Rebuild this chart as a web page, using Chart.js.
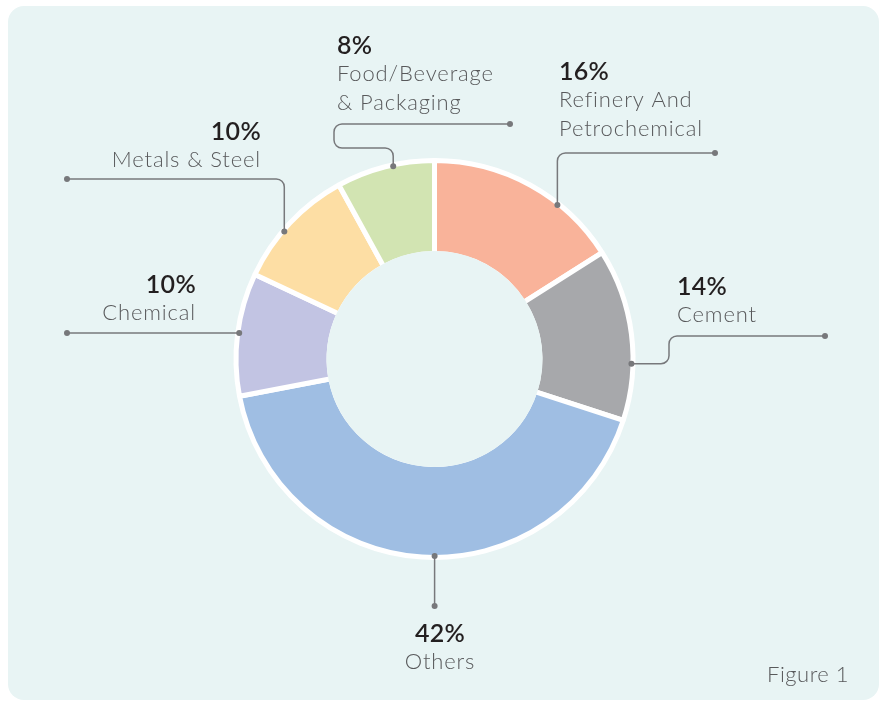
<!DOCTYPE html>
<html>
<head>
<meta charset="utf-8">
<script src="https://cdn.jsdelivr.net/npm/chart.js@4"></script>
<style>
  html, body { margin: 0; padding: 0; background: #ffffff; }
  #wrap { position: relative; width: 885px; height: 702px; }
  #panel {
    position: absolute; left: 8px; top: 6px; width: 871px; height: 694px;
    background: #e8f4f4; border-radius: 16px;
  }
  #cv { position: absolute; left: 0; top: 0; }
</style>
</head>
<body>
<div id="wrap">
  <div id="panel"></div>
  <canvas id="cv" width="885" height="702"></canvas>
</div>
<script>
// Dados do gráfico (sentido horário a partir do topo)
const categories = ['Refinery And Petrochemical', 'Cement', 'Others', 'Chemical', 'Metals & Steel', 'Food/Beverage & Packaging'];
const shares = [16, 14, 42, 10, 10, 8];
const labelLines = [
    ['Refinery And', 'Petrochemical'],
    ['Cement'],
    ['Others'],
    ['Chemical'],
    ['Metals & Steel'],
    ['Food/Beverage', '& Packaging']
];
const sliceColors = ['#f9b39a', '#a7a8ab', '#9fbee3', '#c2c4e3', '#fddea4', '#d2e4b2'];

// Posição dos rótulos e das linhas de chamada (apenas layout)
const labelLayout = [
    { frac: 0.67, route: [['v', 153], ['h', 715]], x: 559, y: 80, align: 'left' },
    { frac: 0.67, route: [['h', 669], ['v', 336], ['h', 825]], x: 677, y: 295, align: 'left' },
    { frac: 0.476, route: [['v', 606]], x: 440, y: 642, align: 'center' },
    { frac: 0.51, route: [['h', 67]], x: 196, y: 293, align: 'right' },
    { frac: 0.42, route: [['v', 179], ['h', 67]], x: 261, y: 140, align: 'right' },
    { frac: 0.58, route: [['v', 148], ['h', 334], ['v', 124], ['h', 510]], x: 337, y: 54, align: 'left' }
];

const BG = '#e8f4f4';
const LINE = '#77787b';

// Plugin: tapa a borda branca interna do furo
const holePlugin = {
    id: 'hole',
    afterDatasetsDraw(chart) {
        const arc = chart.getDatasetMeta(0).data[0];
        const ctx = chart.ctx;
        ctx.save();
        ctx.fillStyle = BG;
        ctx.beginPath();
        ctx.arc(arc.x, arc.y, arc.innerRadius + 2.5, 0, Math.PI * 2);
        ctx.fill();
        ctx.restore();
    }
};

// Plugin: linhas de chamada e textos
const calloutPlugin = {
    id: 'callouts',
    afterDraw(chart) {
        const ctx = chart.ctx;
        const arcs = chart.getDatasetMeta(0).data;
        ctx.save();
        arcs.forEach((arc, i) => {
            const lay = labelLayout[i];
            const a = arc.startAngle + lay.frac * (arc.endAngle - arc.startAngle);
            const r = arc.outerRadius - 1.5;
            const pts = [[arc.x + Math.cos(a) * r, arc.y + Math.sin(a) * r]];
            lay.route.forEach(([dir, v]) => {
                const last = pts[pts.length - 1];
                pts.push(dir === 'v' ? [last[0], v] : [v, last[1]]);
            });
            // linha com cantos arredondados
            ctx.strokeStyle = LINE;
            ctx.lineWidth = 1.5;
            ctx.beginPath();
            ctx.moveTo(pts[0][0], pts[0][1]);
            for (let k = 1; k < pts.length - 1; k++) {
                ctx.arcTo(pts[k][0], pts[k][1], pts[k + 1][0], pts[k + 1][1], 8);
            }
            const end = pts[pts.length - 1];
            ctx.lineTo(end[0], end[1]);
            ctx.stroke();
            ctx.fillStyle = LINE;
            [pts[0], end].forEach(p => {
                ctx.beginPath();
                ctx.arc(p[0], p[1], 3, 0, Math.PI * 2);
                ctx.fill();
            });
            // textos
            ctx.textAlign = lay.align;
            ctx.textBaseline = 'alphabetic';
            ctx.fillStyle = '#231f20';
            ctx.letterSpacing = '0.3px';
            ctx.font = '600 25px Lato';
            ctx.fillText(shares[i] + '%', lay.x, lay.y);
            ctx.fillStyle = '#58595b';
            ctx.letterSpacing = '0.85px';
            ctx.font = '300 22px Lato';
            labelLines[i].forEach((t, j) => {
                ctx.fillText(t, lay.x, lay.y + 27 + j * 29);
            });
        });
        ctx.textAlign = 'right';
        ctx.fillStyle = '#58595b';
        ctx.letterSpacing = '0.5px';
        ctx.font = '300 22px Lato';
        ctx.fillText('Figure 1', 849, 682);
        ctx.restore();
    }
};

const chart = new Chart(document.getElementById('cv').getContext('2d'), {
    type: 'doughnut',
    data: {
        labels: categories,
        datasets: [{
            data: shares,
            backgroundColor: sliceColors,
            borderColor: '#ffffff',
            borderWidth: 5,
            borderAlign: 'center',
            hoverOffset: 0
        }]
    },
    options: {
        responsive: false,
        animation: false,
        radius: 198.5,
        cutout: '53.15%',
        layout: { padding: { left: 0, right: 16, top: 16, bottom: 0 } },
        plugins: {
            legend: { display: false },
            tooltip: { enabled: false }
        }
    },
    plugins: [holePlugin, calloutPlugin]
});
</script>
</body>
</html>
